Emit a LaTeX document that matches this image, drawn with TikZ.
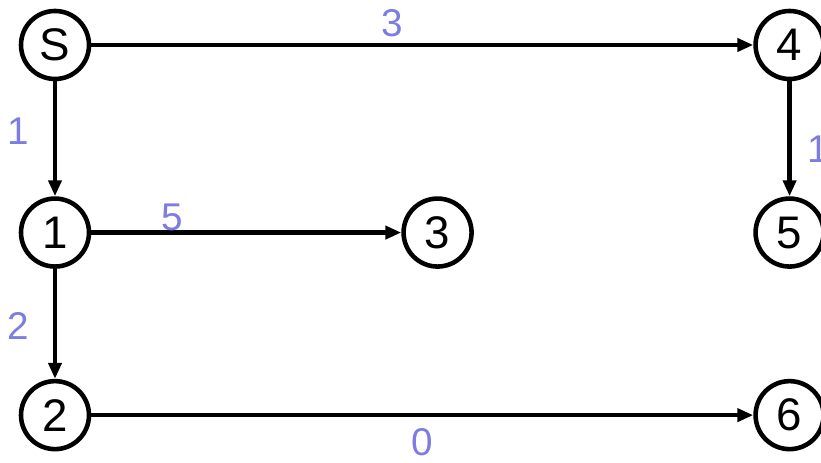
\documentclass[tikz,border=0pt]{standalone}
\usepackage{fontspec}
\setmainfont{Liberation Sans}
\usepackage{tikz}
\usetikzlibrary{arrows.meta, positioning}
\definecolor{weightblue}{HTML}{7C7CE2}
\tikzstyle{vertex} = [circle, draw=black, line width=1.3pt, fill=white, minimum size=0.68cm, inner sep=0pt, font=\fontsize{13}{15}\selectfont]
\tikzstyle{edge} = [line width=1.3pt, -{Triangle[length=1.6mm, width=1.3mm]}, color=black]
\tikzstyle{weight} = [font=\fontsize{11}{13}\selectfont, text=weightblue, inner sep=1pt]

\begin{document}
\begin{tikzpicture}
\useasboundingbox (0,0) rectangle (8.21,-4.63);

\node (s) [vertex] at (0.55,-0.45) {S};
\node (n1) [vertex, below=1.15cm of s] {1};
\node (n2) [vertex, below=1.1cm of n1] {2};
\node (n3) [vertex, right=3.1cm of n1] {3};
\node (n4) [vertex, right=6.62cm of s] {4};
\node (n5) [vertex, below=1.15cm of n4] {5};
\node (n6) [vertex, right=6.62cm of n2] {6};

\draw[edge] (s) -- node[weight, above, xshift=-0.3cm, yshift=0.02cm]{3} (n4);
\draw[edge] (s) -- node[weight, left, xshift=-0.2cm, yshift=0.08cm]{1} (n1);
\draw[edge] (n4) -- node[weight, right, xshift=0.12cm, yshift=-0.1cm]{1} (n5);
\draw[edge] (n1) -- node[weight, above, pos=0.26, yshift=-0.04cm]{5} (n3);
\draw[edge] (n1) -- node[weight, left, xshift=-0.2cm, yshift=-0.02cm]{2} (n2);
\draw[edge] (n2) -- node[weight, below, yshift=-0.08cm]{0} (n6);

\end{tikzpicture}
\end{document}
